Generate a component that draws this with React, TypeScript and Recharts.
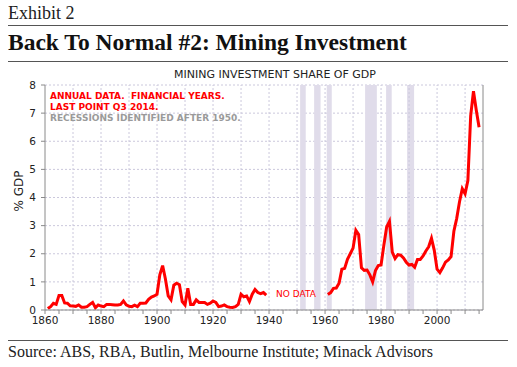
import React from 'react';
import {
  LineChart, Line, XAxis, YAxis, CartesianGrid, ReferenceArea, ReferenceLine,
} from 'recharts';

// Annual data, financial years
const earlyStartYear = 1861;
const earlyValues = [
  0.05, 0.12, 0.24, 0.2, 0.52, 0.52, 0.25, 0.24, 0.15, 0.14,
  0.13, 0.18, 0.1, 0.1, 0.12, 0.2, 0.27, 0.08, 0.18, 0.14,
  0.12, 0.2, 0.2, 0.19, 0.18, 0.18, 0.2, 0.32, 0.18, 0.13,
  0.12, 0.17, 0.12, 0.24, 0.24, 0.25, 0.38, 0.46, 0.5, 0.56,
  1.25, 1.58, 1.1, 0.5, 0.36, 0.88, 0.95, 0.9, 0.3, 0.18,
  0.77, 0.2, 0.2, 0.36, 0.27, 0.27, 0.27, 0.2, 0.24, 0.32,
  0.27, 0.12, 0.14, 0.18, 0.12, 0.1, 0.09, 0.12, 0.2, 0.56,
  0.47, 0.5, 0.3, 0.56, 0.73, 0.62, 0.58, 0.62, 0.53,
];
const gapYear = 1950;
const lateStartYear = 1961;
const lateValues = [
  0.55, 0.62, 0.77, 0.78, 0.95, 1.45, 1.48, 1.8, 2.0, 2.2,
  2.83, 2.68, 1.5, 1.41, 1.42, 1.25, 1.0, 1.4, 1.58, 1.6,
  2.3, 2.95, 3.15, 2.06, 1.83, 1.97, 1.95, 1.85, 1.7, 1.6,
  1.62, 1.52, 1.8, 1.8, 1.92, 2.1, 2.25, 2.55, 2.12, 1.45,
  1.33, 1.5, 1.7, 1.78, 1.9, 2.8, 3.25, 3.84, 4.31, 4.13,
  4.6, 6.9, 7.78, 7.1, 6.5,
];

const recessions: [number, number][] = [
  [1951.1, 1953.1],
  [1956.1, 1958.4],
  [1960.6, 1962.4],
  [1974.3, 1978.5],
  [1981.8, 1983.8],
  [1989.3, 1991.8],
];

const xTicks = [
  1860, 1865, 1870, 1875, 1880, 1885, 1890, 1895, 1900, 1905, 1910, 1915, 1920,
  1925, 1930, 1935, 1940, 1945, 1950, 1955, 1960, 1965, 1970, 1975, 1980, 1985,
  1990, 1995, 2000, 2005, 2010, 2015,
];
const xLabels = [1860, 1880, 1900, 1920, 1940, 1960, 1980, 2000];
const decadeGrid = [1870, 1880, 1890, 1900, 1910, 1920, 1930, 1940, 1950, 1960, 1970, 1980, 1990, 2000, 2010];
const yTicks = [0, 1, 2, 3, 4, 5, 6, 7, 8];

const data = [
  ...earlyValues.map((v, i) => ({ year: earlyStartYear + i, value: v })),
  { year: gapYear, value: null as number | null },
  ...lateValues.map((v, i) => ({ year: lateStartYear + i, value: v })),
];

const GRID = '#cbc8dc';
const AXIS = '#8a8a8a';
const tickStyle = { fontFamily: 'DejaVu Sans', fontSize: 10.5, fill: '#222' };

export default function App() {
  return (
    <div style={{ position: 'absolute', left: 0, top: 0, width: 517, height: 367, background: '#fff', overflow: 'hidden' }}>
      <div style={{ position: 'absolute', left: 8, top: 3, fontFamily: 'Liberation Serif', fontSize: 18, color: '#222' }}>Exhibit 2</div>
      <div style={{ position: 'absolute', left: 8, top: 25, width: 500, borderTop: '1.5px solid #555' }} />
      <div style={{ position: 'absolute', left: 8, top: 29, fontFamily: 'Liberation Serif', fontWeight: 'bold', fontSize: 23.5, color: '#111' }}>Back To Normal #2: Mining Investment</div>
      <div style={{ position: 'absolute', left: 8, top: 61, width: 500, borderTop: '1.5px solid #555' }} />
      <div style={{ position: 'absolute', left: 0, width: 550, top: 68, textAlign: 'center', fontFamily: 'DejaVu Sans', fontSize: 11, color: '#222' }}>MINING INVESTMENT SHARE OF GDP</div>

      <div style={{ position: 'absolute', left: 0, top: 0 }}>
        <LineChart width={517} height={367} data={data} margin={{ top: 85, right: 4, bottom: 37, left: 15 }}>
          <CartesianGrid vertical={false} stroke={GRID} strokeDasharray="2 2" yAxisId="left" />
          {recessions.map(([a, b], i) => (
            <ReferenceArea key={'r' + i} x1={a} x2={b} yAxisId="left" fill="#e0dcea" fillOpacity={1} stroke="none" ifOverflow="hidden" />
          ))}
          {decadeGrid.map((y) => (
            <ReferenceLine key={'g' + y} x={y} yAxisId="left" stroke={GRID} strokeDasharray="2 2" />
          ))}
          <XAxis
            dataKey="year"
            type="number"
            domain={[1860, 2016.4]}
            ticks={xTicks}
            interval={0}
            tickFormatter={(v: number) => (xLabels.includes(v) ? String(v) : '')}
            height={20}
            tick={tickStyle}
            tickSize={4}
            tickMargin={3}
            stroke={AXIS}
            allowDataOverflow
          />
          <YAxis
            yAxisId="left"
            domain={[0, 8]}
            ticks={yTicks}
            width={30}
            tick={tickStyle}
            tickSize={4}
            tickMargin={5}
            stroke={AXIS}
          />
          <YAxis
            yAxisId="right"
            orientation="right"
            domain={[0, 8]}
            ticks={yTicks}
            width={30}
            tick={tickStyle}
            tickSize={4}
            tickMargin={5}
            stroke={AXIS}
          />
          <Line
            yAxisId="left"
            type="linear"
            dataKey="value"
            stroke="#ff0000"
            strokeWidth={3}
            dot={false}
            connectNulls={false}
            isAnimationActive={false}
          />
        </LineChart>
      </div>

      <div style={{ position: 'absolute', left: 19, top: 191, transform: 'translate(-50%, -50%) rotate(-90deg)', fontFamily: 'DejaVu Sans', fontSize: 12, color: '#222', whiteSpace: 'nowrap' }}>% GDP</div>

      <div style={{ position: 'absolute', left: 50, top: 91, fontFamily: 'DejaVu Sans', fontWeight: 'bold', fontSize: 9, lineHeight: '11px', whiteSpace: 'pre' }}>
        <div style={{ color: '#ff0000' }}>{'ANNUAL DATA.  FINANCIAL YEARS.'}</div>
        <div style={{ color: '#ff0000' }}>LAST POINT Q3 2014.</div>
        <div style={{ color: '#9a9a9a' }}>RECESSIONS IDENTIFIED AFTER 1950.</div>
      </div>

      <div style={{ position: 'absolute', left: 276, top: 289, fontFamily: 'DejaVu Sans', fontSize: 9, color: '#ff0000' }}>NO DATA</div>

      <div style={{ position: 'absolute', left: 8, top: 340, width: 500, borderTop: '1.5px solid #555' }} />
      <div style={{ position: 'absolute', left: 8, top: 343, fontFamily: 'Liberation Serif', fontSize: 16, color: '#222' }}>Source: ABS, RBA, Butlin, Melbourne Institute; Minack Advisors</div>
    </div>
  );
}
